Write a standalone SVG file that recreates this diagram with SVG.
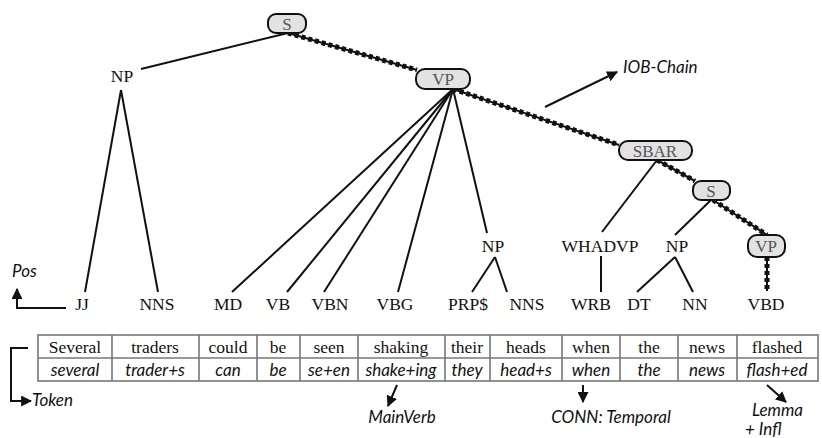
<svg xmlns="http://www.w3.org/2000/svg" width="822" height="438" viewBox="0 0 822 438">
<style>
.ser{font-family:"Liberation Serif","DejaVu Serif",serif;font-size:17.5px;fill:#111;text-anchor:middle}
.box{fill:#e2e2e2;stroke:#111;stroke-width:2}
.btx{font-family:"Liberation Serif","DejaVu Serif",serif;font-size:17px;fill:#555;text-anchor:middle}
.it{font-family:Lato,"Open Sans",sans-serif;font-style:italic;font-size:17px;fill:#111}
.lm{font-family:Lato,"Open Sans",sans-serif;font-style:italic;font-size:17px;fill:#111;text-anchor:middle}
.ln{stroke:#111;stroke-width:2;fill:none}
.ch{stroke:#111;stroke-width:2;fill:none}
.chd{stroke:#111;stroke-width:5;stroke-dasharray:4 3;fill:none}
.tb{stroke:#777;stroke-width:1.6;fill:none}
.ar{stroke:#111;stroke-width:2;fill:none;marker-end:url(#ah)}
</style>
<defs>
<marker id="ah" viewBox="0 0 10 10" refX="9" refY="5" markerWidth="5.5" markerHeight="5.5" orient="auto" markerUnits="strokeWidth">
<path d="M0,0 L10,5 L0,10 z" fill="#111"/>
</marker>
</defs>
<g id="connectors">
<line class="ln" x1="288" y1="33" x2="141" y2="69"/>
<line class="ln" x1="121" y1="90" x2="85" y2="292"/>
<line class="ln" x1="121" y1="90" x2="158" y2="292"/>
<line class="ln" x1="453" y1="89" x2="232" y2="292"/>
<line class="ln" x1="453" y1="89" x2="287" y2="292"/>
<line class="ln" x1="453" y1="89" x2="324" y2="292"/>
<line class="ln" x1="453" y1="89" x2="398" y2="292"/>
<line class="ln" x1="453" y1="89" x2="487" y2="233"/>
<line class="ln" x1="495" y1="257" x2="472" y2="292"/>
<line class="ln" x1="495" y1="257" x2="507" y2="292"/>
<line class="ln" x1="657" y1="160" x2="602" y2="232"/>
<line class="ln" x1="601" y1="256" x2="601" y2="292"/>
<line class="ln" x1="711" y1="200" x2="675" y2="235"/>
<line class="ln" x1="675" y1="257" x2="637" y2="292"/>
<line class="ln" x1="675" y1="257" x2="693" y2="292"/>
<g id="iob-chain">
<path class="ch" d="M288,33 L417,70 M453,89 L619,145 M657,160 L695,181 M713,200 L767,235 M767,257 L767,291"/>
<path class="chd" d="M288,33 L417,70 M453,89 L619,145 M657,160 L695,181 M713,200 L767,235 M767,257 L767,291"/>
</g>
<line class="ar" x1="545" y1="107" x2="617" y2="72"/>
<path class="ln" d="M66,308 L17,308 L17,289" marker-end="url(#ah)"/>
<path class="ln" d="M28,348 L11,348 L11,401 L31,401" marker-end="url(#ah)"/>
<line class="ar" x1="397" y1="385" x2="388" y2="406"/>
<line class="ar" x1="583" y1="385" x2="583" y2="402"/>
<line class="ar" x1="767" y1="385" x2="786" y2="402"/>
</g>
<g id="node-S"><rect class="box" x="268" y="14" width="38" height="19" rx="8"/><text class="btx" x="287" y="30">S</text></g>
<g id="node-VP"><rect class="box" x="416" y="69" width="54" height="20" rx="9"/><text class="btx" x="443" y="85">VP</text></g>
<g id="node-SBAR"><rect class="box" x="619" y="141" width="73" height="19" rx="9"/><text class="btx" x="655" y="157">SBAR</text></g>
<g id="node-S2"><rect class="box" x="693" y="181" width="37" height="19" rx="8"/><text class="btx" x="711" y="197">S</text></g>
<g id="node-VP2"><rect class="box" x="748" y="235" width="37" height="22" rx="9"/><text class="btx" x="766" y="252">VP</text></g>
<g id="node-NP1"><text class="ser" x="122" y="82">NP</text></g>
<g id="node-NP2"><text class="ser" x="493" y="252">NP</text></g>
<g id="node-WHADVP"><text class="ser" x="600" y="252">WHADVP</text></g>
<g id="node-NP3"><text class="ser" x="677" y="252">NP</text></g>
<g id="pos-tags">
<text class="ser" x="82" y="310">JJ</text>
<text class="ser" x="157" y="310">NNS</text>
<text class="ser" x="228" y="310">MD</text>
<text class="ser" x="278" y="310">VB</text>
<text class="ser" x="330" y="310">VBN</text>
<text class="ser" x="395" y="310">VBG</text>
<text class="ser" x="468" y="310">PRP$</text>
<text class="ser" x="527" y="310">NNS</text>
<text class="ser" x="591" y="310">WRB</text>
<text class="ser" x="639" y="310">DT</text>
<text class="ser" x="695" y="310">NN</text>
<text class="ser" x="766" y="310">VBD</text>
</g>
<g id="token-table">
<rect class="tb" x="38" y="335" width="780" height="46"/>
<line class="tb" x1="38" y1="358" x2="818" y2="358"/>
<path class="tb" d="M112,335V381M199,335V381M257,335V381M300,335V381M358,335V381M445,335V381M490,335V381M562,335V381M620,335V381M678,335V381M737,335V381"/>
<text class="ser" x="75" y="353">Several</text>
<text class="ser" x="155" y="353">traders</text>
<text class="ser" x="228" y="353">could</text>
<text class="ser" x="278" y="353">be</text>
<text class="ser" x="329" y="353">seen</text>
<text class="ser" x="401" y="353">shaking</text>
<text class="ser" x="467" y="353">their</text>
<text class="ser" x="526" y="353">heads</text>
<text class="ser" x="591" y="353">when</text>
<text class="ser" x="649" y="353">the</text>
<text class="ser" x="707" y="353">news</text>
<text class="ser" x="777" y="353">flashed</text>
<text class="lm" x="75" y="376">several</text>
<text class="lm" x="155" y="376">trader+s</text>
<text class="lm" x="228" y="376">can</text>
<text class="lm" x="278" y="376">be</text>
<text class="lm" x="329" y="376">se+en</text>
<text class="lm" x="401" y="376">shake+ing</text>
<text class="lm" x="467" y="376">they</text>
<text class="lm" x="526" y="376">head+s</text>
<text class="lm" x="591" y="376">when</text>
<text class="lm" x="649" y="376">the</text>
<text class="lm" x="707" y="376">news</text>
<text class="lm" x="777" y="376">flash+ed</text>
</g>
<g id="labels">
<text class="it" x="623" y="73">IOB-Chain</text>
<text class="it" x="12" y="277">Pos</text>
<text class="it" x="32" y="406">Token</text>
<text class="it" x="402" y="423" text-anchor="middle">MainVerb</text>
<text class="it" x="611" y="423" text-anchor="middle">CONN: Temporal</text>
<text class="it" x="752" y="416" font-size="16">Lemma</text>
<text class="it" x="745" y="435" font-size="13">+ Infl</text>
</g>
</svg>
